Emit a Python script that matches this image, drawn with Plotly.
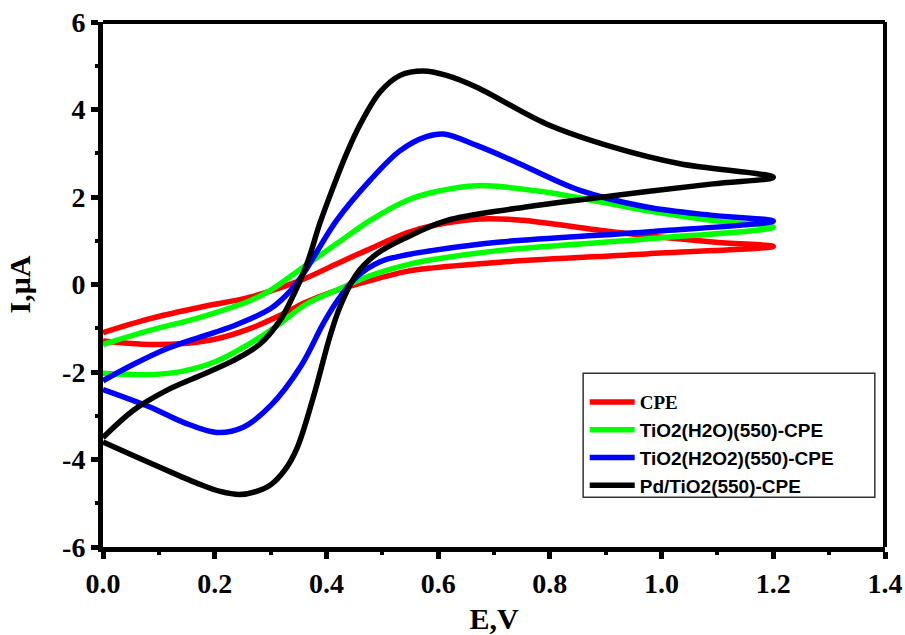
import plotly.graph_objects as go

# ---- data ----
series_names = ["CPE", "TiO2(H2O)(550)-CPE", "TiO2(H2O2)(550)-CPE", "Pd/TiO2(550)-CPE"]
series_colors = ["#ff0000", "#00ff00", "#0000ff", "#000000"]

# CPE
cpe_E_up = [0.0, 0.084, 0.174, 0.263, 0.353, 0.418, 0.472, 0.544, 0.591, 0.675, 0.75, 0.914, 1.092, 1.2]
cpe_I_up = [-1.1, -0.78, -0.52, -0.29, 0.09, 0.47, 0.78, 1.18, 1.35, 1.50, 1.47, 1.20, 0.97, 0.87]
cpe_E_dn = [1.2, 0.973, 0.711, 0.591, 0.544, 0.478, 0.412, 0.359, 0.323, 0.263, 0.204, 0.144, 0.084, 0.0]
cpe_I_dn = [0.87, 0.70, 0.51, 0.38, 0.30, 0.09, -0.16, -0.43, -0.67, -1.01, -1.24, -1.35, -1.37, -1.29]

# TiO2(H2O)(550)-CPE
h2o_E_up = [0.0, 0.084, 0.174, 0.263, 0.299, 0.359, 0.418, 0.478, 0.544, 0.595, 0.669, 0.794, 0.973, 1.092, 1.2]
h2o_I_up = [-1.37, -1.05, -0.75, -0.37, -0.14, 0.40, 0.93, 1.46, 1.92, 2.12, 2.26, 2.11, 1.69, 1.46, 1.31]
h2o_E_dn = [1.2, 0.973, 0.711, 0.591, 0.544, 0.478, 0.42, 0.365, 0.311, 0.263, 0.204, 0.144, 0.084, 0.0]
h2o_I_dn = [1.31, 1.04, 0.78, 0.57, 0.45, 0.20, -0.12, -0.44, -0.95, -1.35, -1.75, -1.98, -2.06, -2.03]

# TiO2(H2O2)(550)-CPE
h2o2_E_up = [0.0, 0.054, 0.114, 0.174, 0.233, 0.3, 0.335, 0.359, 0.383, 0.418, 0.478, 0.532, 0.579,
             0.61, 0.669, 0.734, 0.854, 0.973, 1.092, 1.2]
h2o2_I_up = [-2.2, -1.83, -1.47, -1.2, -0.95, -0.55, -0.15, 0.25, 0.75, 1.46, 2.38, 3.06, 3.38,
             3.44, 3.18, 2.83, 2.15, 1.77, 1.58, 1.45]
h2o2_E_dn = [1.2, 0.973, 0.711, 0.591, 0.544, 0.496, 0.454, 0.418, 0.394, 0.355, 0.3, 0.251, 0.204,
             0.144, 0.084, 0.0]
h2o2_I_dn = [1.45, 1.20, 0.97, 0.78, 0.68, 0.52, 0.17, -0.40, -0.90, -1.85, -2.77, -3.26, -3.38,
             -3.15, -2.80, -2.40]

# Pd/TiO2(550)-CPE
pd_E_up = [0.0, 0.054, 0.114, 0.174, 0.233, 0.281, 0.317, 0.335, 0.365, 0.388, 0.412, 0.436, 0.46,
           0.496, 0.532, 0.573, 0.615, 0.669, 0.794, 0.913, 1.033, 1.2]
pd_I_up = [-3.5, -2.88, -2.42, -2.08, -1.74, -1.36, -0.82, -0.40, 0.47, 1.39, 2.22, 2.99, 3.65,
           4.40, 4.78, 4.88, 4.78, 4.51, 3.67, 3.14, 2.76, 2.45]
pd_E_dn = [1.2, 1.092, 0.913, 0.734, 0.615, 0.544, 0.49, 0.454, 0.424, 0.406, 0.376, 0.347, 0.325,
           0.3, 0.275, 0.245, 0.21, 0.17, 0.138, 0.054, 0.0]
pd_I_dn = [2.45, 2.30, 2.03, 1.73, 1.46, 1.08, 0.70, 0.24, -0.52, -1.2, -2.6, -3.75, -4.25,
           -4.58, -4.73, -4.80, -4.73, -4.55, -4.38, -3.91, -3.60]

x_tick_vals = [0.0, 0.2, 0.4, 0.6, 0.8, 1.0, 1.2, 1.4]
x_tick_text = ["0.0", "0.2", "0.4", "0.6", "0.8", "1.0", "1.2", "1.4"]
y_tick_vals = [-6, -4, -2, 0, 2, 4, 6]
y_tick_text = ["-6", "-4", "-2", "0", "2", "4", "6"]

curves = [
    (cpe_E_up, cpe_I_up, cpe_E_dn, cpe_I_dn),
    (h2o_E_up, h2o_I_up, h2o_E_dn, h2o_I_dn),
    (h2o2_E_up, h2o2_I_up, h2o2_E_dn, h2o2_I_dn),
    (pd_E_up, pd_I_up, pd_E_dn, pd_I_dn),
]

SERIF = "Liberation Serif, Times New Roman, serif"

fig = go.Figure()
for name, color, (eu, iu, ed, idn) in zip(series_names, series_colors, curves):
    if name == "CPE":
        label = "<b>%s</b>" % name
    else:
        label = "<span style='font-family:Liberation Sans, Arial'><b>%s</b></span>" % name
    fig.add_trace(go.Scatter(
        x=list(eu) + list(ed[1:]),
        y=list(iu) + list(idn[1:]),
        mode="lines",
        name=label,
        line=dict(color=color, width=5.5, shape="spline", smoothing=1.0),
    ))

axis_common = dict(
    showline=True, linecolor="black", linewidth=5,
    ticks="outside", ticklen=7, tickwidth=5, tickcolor="black",
    showgrid=False, zeroline=False, mirror=False, automargin=False,
    tickfont=dict(family=SERIF, size=28, color="black", weight="bold"),
)

fig.update_layout(
    width=905, height=635,
    margin=dict(l=103, r=20, t=22, b=88),
    paper_bgcolor="white", plot_bgcolor="white",
    showlegend=True,
    legend=dict(
        x=0.616, y=0.312, xanchor="left", yanchor="top",
        bgcolor="rgba(0,0,0,0)", borderwidth=0,
        font=dict(family=SERIF, size=19, color="black"),
        itemwidth=45, tracegroupgap=0,
    ),
    xaxis=dict(
        range=[0, 1.4], tickvals=x_tick_vals, ticktext=["<b>%s</b>" % t for t in x_tick_text],
        minor=dict(dtick=0.1, ticks="outside", ticklen=3, tickwidth=4, tickcolor="black"),
        title=dict(text="<b>E,V</b>", font=dict(family=SERIF, size=30, color="black"), standoff=28),
        **axis_common,
    ),
    yaxis=dict(
        range=[-6, 6], tickvals=y_tick_vals, ticktext=["<b>%s</b>" % t for t in y_tick_text],
        minor=dict(dtick=1, ticks="outside", ticklen=3, tickwidth=4, tickcolor="black"),
        title=dict(text="<b>I,μA</b>", font=dict(family=SERIF, size=30, color="black"), standoff=24),
        **axis_common,
    ),
    shapes=[
        dict(type="line", xref="paper", yref="paper", x0=0, x1=1, y0=1, y1=1,
             line=dict(color="black", width=4)),
        dict(type="line", xref="paper", yref="paper", x0=1, x1=1, y0=0, y1=1,
             line=dict(color="black", width=4)),
        dict(type="rect", xref="paper", yref="paper", x0=0.614, x1=0.987, y0=0.095, y1=0.331,
             line=dict(color="#333333", width=1.5)),
    ],
)

fig.write_html("out.html")
